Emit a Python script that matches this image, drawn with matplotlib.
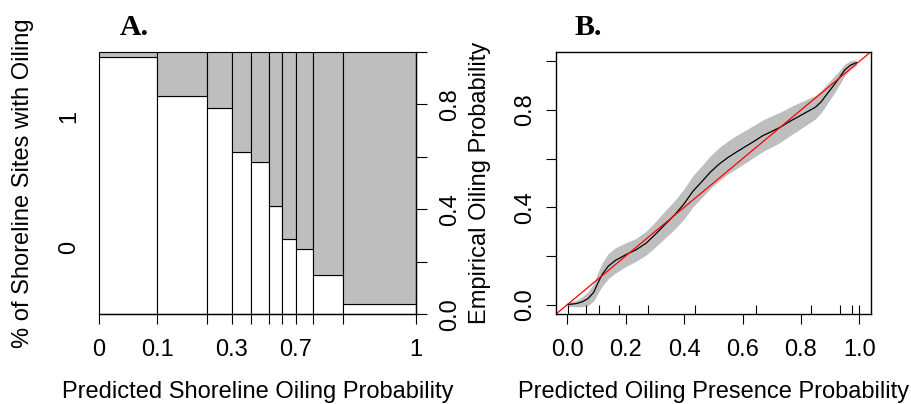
import numpy as np
import matplotlib
matplotlib.use("Agg")
import matplotlib.pyplot as plt

plt.rcParams['font.family'] = ['Liberation Sans', 'DejaVu Sans']

# === DATA ===
# Panel A: spine plot, one bar per predicted probability bin
break_labels = ["0", "0.1", "0.2", "0.3", "0.4", "0.5", "0.6", "0.7", "0.8", "0.9", "1"]
shown_labels = ["0", "0.1", "0.3", "0.7", "1"]
bin_share = np.array([0.1833, 0.1570, 0.0780, 0.0622, 0.0548,
                      0.0432, 0.0421, 0.0537, 0.0948, 0.2308])   # share of sites per bin
share_no_oil = np.array([0.978, 0.831, 0.784, 0.617, 0.579,
                         0.411, 0.287, 0.249, 0.150, 0.038])    # share with oiling = 0

# Panel B: calibration curve with band and rug
pred_x = np.array([0.00, 0.03, 0.05, 0.07, 0.09, 0.105, 0.12, 0.14, 0.165, 0.20,
                   0.235, 0.27, 0.30, 0.335, 0.37, 0.40, 0.43, 0.46, 0.49, 0.52,
                   0.55, 0.58, 0.61, 0.64, 0.67, 0.70, 0.73, 0.76, 0.79, 0.82,
                   0.85, 0.87, 0.89, 0.91, 0.93, 0.95, 0.97, 0.99])
emp_y = np.array([0.000, 0.004, 0.011, 0.024, 0.050, 0.090, 0.125, 0.158, 0.182, 0.205,
                  0.225, 0.253, 0.287, 0.330, 0.372, 0.415, 0.466, 0.505, 0.545, 0.578,
                  0.605, 0.628, 0.650, 0.672, 0.695, 0.712, 0.730, 0.752, 0.772, 0.792,
                  0.812, 0.835, 0.867, 0.898, 0.930, 0.965, 0.985, 0.995])
band_half = np.array([0.008, 0.013, 0.020, 0.028, 0.036, 0.043, 0.048, 0.052, 0.052, 0.049,
                      0.047, 0.049, 0.052, 0.056, 0.059, 0.062, 0.064, 0.066, 0.067, 0.068,
                      0.068, 0.068, 0.067, 0.066, 0.065, 0.064, 0.062, 0.059, 0.056, 0.052,
                      0.048, 0.045, 0.041, 0.036, 0.030, 0.024, 0.018, 0.011])
rug_x = [0.002, 0.063, 0.110, 0.177, 0.277, 0.437, 0.647, 0.835, 0.933, 0.975, 0.998]

GRAY = "#BEBEBE"
FS = 17
W, H = 912, 404


def px_axes(left, top, right, bottom):
    return [left / W, (H - bottom) / H, (right - left) / W, (bottom - top) / H]


fig = plt.figure(figsize=(W / 100, H / 100), dpi=100)

# ---------- Panel A ----------
axA = fig.add_axes(px_axes(99, 51.7, 416, 314.3))
lefts = np.concatenate([[0], np.cumsum(bin_share)[:-1]])
axA.bar(lefts, share_no_oil, width=bin_share, align='edge', color='white',
        edgecolor='black', lw=0.8, clip_on=False)
axA.bar(lefts, 1 - share_no_oil, bottom=share_no_oil, width=bin_share, align='edge',
        color=GRAY, edgecolor='black', lw=0.8, clip_on=False)
axA.set_xlim(0, 1)
axA.set_ylim(0, 1)
for s in ['left', 'top', 'right']:
    axA.spines[s].set_visible(False)
axA.spines['bottom'].set_linewidth(1.0)

edges = np.concatenate([[0], np.cumsum(bin_share)])
axA.set_xticks(edges, [lab if lab in shown_labels else "" for lab in break_labels])
axA.tick_params(axis='x', length=7.5, width=0.8, labelsize=FS, pad=10)

p0 = np.sum(bin_share * share_no_oil)
axA.set_yticks([p0 / 2, (p0 + 1) / 2], ["0", "1"])
axA.tick_params(axis='y', length=0, labelsize=FS, pad=13.7, labelrotation=90)
for t in axA.get_yticklabels():
    t.set_va('center')
axA.set_ylabel("% of Shoreline Sites with Oiling", fontsize=FS, va='center')
axA.yaxis.set_label_coords((23 - 99) / 317, 0.5)

axA.set_xlabel("Predicted Shoreline Oiling Probability", fontsize=FS, va='baseline')
axA.xaxis.set_label_coords(0.5, -(398 - 314.3) / 262.6)

axA2 = axA.twinx()
axA2.set_ylim(0, 1)
for s in ['left', 'top', 'bottom']:
    axA2.spines[s].set_visible(False)
axA2.spines['right'].set_linewidth(1.0)
axA2.set_yticks(np.arange(0, 1.01, 0.2), ["0.0", "", "0.4", "", "0.8", ""])
axA2.tick_params(axis='y', length=8, width=0.8, labelsize=FS, pad=8.3, labelrotation=90)
for t in axA2.get_yticklabels():
    t.set_va('center')

axA.text((120 - 99) / 317, 1 + (51.7 - 35) / 262.6, "A.", transform=axA.transAxes,
         fontsize=21.5, fontweight='bold', family='Liberation Serif', va='baseline')

# ---------- Panel B ----------
axB = fig.add_axes(px_axes(555.7, 51.7, 871, 314.3))
axB.fill_between(pred_x, emp_y - band_half, emp_y + band_half, color=GRAY, lw=0)
axB.plot(pred_x, emp_y, color='black', lw=0.9)
axB.set_xlim(-0.04, 1.04)
axB.set_ylim(-0.04, 1.04)
axB.plot([-0.04, 1.04], [-0.04, 1.04], color='red', lw=0.9)
axB.vlines(rug_x, 0, 0.034, color='black', lw=0.8, transform=axB.get_xaxis_transform())
for s in axB.spines.values():
    s.set_linewidth(1.0)

axB.set_xticks(np.arange(0, 1.01, 0.2), ["0.0", "0.2", "0.4", "0.6", "0.8", "1.0"])
axB.tick_params(axis='x', length=7.5, width=0.8, labelsize=FS, pad=10)
axB.set_yticks(np.arange(0, 1.01, 0.2), ["0.0", "", "0.4", "", "0.8", ""])
axB.tick_params(axis='y', length=7.5, width=0.8, labelsize=FS, pad=6.8, labelrotation=90)
for t in axB.get_yticklabels():
    t.set_va('center')

axB.set_ylabel("Empirical Oiling Probability", fontsize=FS, va='center')
axB.yaxis.set_label_coords((480 - 555.7) / 315.3, 0.5)
axB.set_xlabel("Predicted Oiling Presence Probability", fontsize=FS, va='baseline')
axB.xaxis.set_label_coords(0.5, -(398 - 314.3) / 262.6)

axB.text((575 - 555.7) / 315.3, 1 + (51.7 - 35) / 262.6, "B.", transform=axB.transAxes,
         fontsize=21.5, fontweight='bold', family='Liberation Serif', va='baseline')

fig.savefig("out.png", dpi=100)
